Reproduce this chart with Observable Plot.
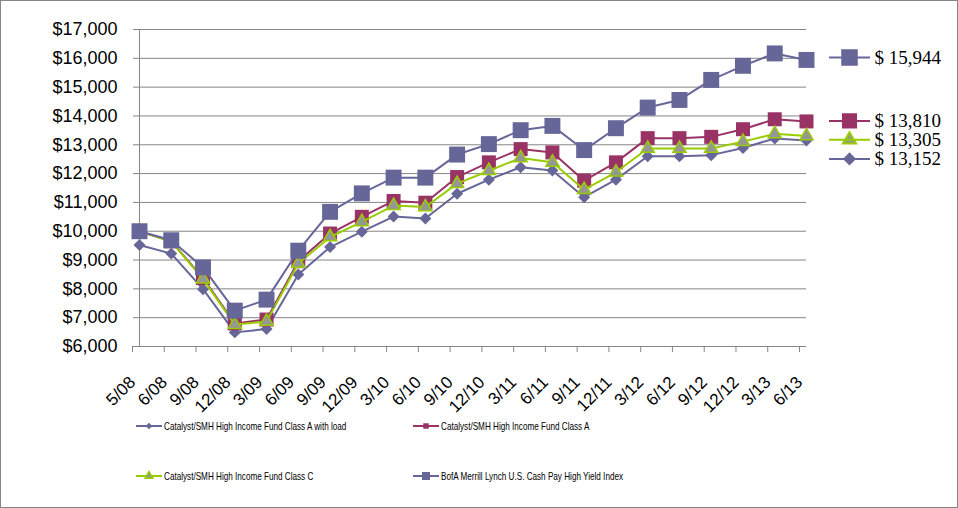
<!DOCTYPE html>
<html>
<head>
<meta charset="utf-8">
<script src="https://cdn.jsdelivr.net/npm/d3@7"></script>
<script src="https://cdn.jsdelivr.net/npm/@observablehq/plot@0.6"></script>
<style>
  html, body { margin: 0; padding: 0; background: #fff; }
  #wrap { position: relative; width: 958px; height: 508px; overflow: hidden; background: #fff; }
  #border { position: absolute; left: 0; top: 0; width: 958px; height: 508px; box-sizing: border-box; border: 1px solid #868686; pointer-events: none; }
  .leg { position: absolute; height: 14px; display: flex; align-items: center; white-space: nowrap; }
  .leg svg { display: block; }
  .leg span { display: inline-block; font-family: "Liberation Sans", Arial, sans-serif; font-size: 11px; color: #000; transform: scaleX(0.74); transform-origin: left center; margin-left: 2px; }
</style>
</head>
<body>
<div id="wrap"><div id="chart"></div><div id="legend"></div><div id="border"></div></div>
<script>
// ---- data ----
const dates = ["5/08","6/08","9/08","12/08","3/09","6/09","9/09","12/09","3/10","6/10","9/10","12/10","3/11","6/11","9/11","12/11","3/12","6/12","9/12","12/12","3/13","6/13"];
const seriesNames = [
  "Catalyst/SMH High Income Fund Class A with load",
  "Catalyst/SMH High Income Fund Class A",
  "Catalyst/SMH High Income Fund Class C",
  "BofA Merrill Lynch U.S. Cash Pay High Yield Index"
];
const withLoad = [9525, 9223, 7990, 6490, 6606, 8500, 9450, 9985, 10510, 10440, 11300, 11790, 12220, 12110, 11180, 11790, 12600, 12600, 12640, 12890, 13220, 13152];
const classA   = [10000, 9650, 8375, 6800, 6935, 8960, 9920, 10500, 11050, 10990, 11880, 12390, 12850, 12735, 11755, 12390, 13230, 13230, 13275, 13540, 13885, 13810];
const classC   = [10000, 9640, 8340, 6760, 6870, 8880, 9800, 10325, 10890, 10840, 11650, 12100, 12540, 12390, 11440, 12045, 12870, 12870, 12870, 13110, 13380, 13305];
const indexHY  = [10000, 9687, 8745, 7244, 7626, 9325, 10673, 11313, 11860, 11860, 12660, 13023, 13506, 13655, 12816, 13575, 14290, 14555, 15250, 15740, 16170, 15944];
const yTicks = [6000, 7000, 8000, 9000, 10000, 11000, 12000, 13000, 14000, 15000, 16000, 17000];

// ---- styles ----
const seriesValues = [withLoad, classA, classC, indexHY];
const styles = [
  {color: "#666699", symbol: d3.symbolDiamond2, r: 5.4, fill: "#666699", stroke: "none", sw: 0, labelDy: 18.5, legR: 4.6, legFill: "#666699", legStroke: "#666699"},
  {color: "#993366", symbol: d3.symbolSquare, r: 7.9, fill: "#993366", stroke: "none", sw: 0, labelDy: -0.5, legR: 7.4, legFill: "#993366", legStroke: "#993366"},
  {color: "#99CC00", symbol: d3.symbolTriangle, r: 4.9, fill: "#969696", stroke: "#99CC00", sw: 1.5, labelDy: 3.8, legR: 4.9, legFill: "#969696", legStroke: "#99CC00"},
  {color: "#666699", symbol: d3.symbolSquare, r: 9, fill: "#666699", stroke: "none", sw: 0, labelDy: -2.5, legR: 8.2, legFill: "#666699", legStroke: "#666699"}
];

function withLine(base, half) {
  return { draw(ctx, size) { ctx.moveTo(-half, 0); ctx.lineTo(half, 0); base.draw(ctx, size); } };
}

const marks = [
  Plot.gridY(yTicks, {stroke: "#868686", strokeOpacity: 1}),
  Plot.ruleX([dates[0]], {stroke: "#868686"}),
  Plot.ruleY([6000], {stroke: "#868686"}),
  Plot.axisY({ticks: yTicks, label: null, tickFormat: d => "$" + d3.format(",")(d), tickSize: 6, tickPadding: 16, fontSize: 18, stroke: "#868686", fill: "#000"}),
  Plot.axisX({label: null, tickSize: 6, tickRotate: -45, tickPadding: 27, fontSize: 17, stroke: "#868686", fill: "#000", dx: -7})
];

seriesValues.forEach((vals, i) => {
  const s = styles[i];
  const rows = dates.map((d, j) => ({date: d, value: vals[j]}));
  marks.push(Plot.line(rows, {x: "date", y: "value", stroke: s.color, strokeWidth: 2}));
  marks.push(Plot.dot(rows, {x: "date", y: "value", symbol: s.symbol, r: s.r, fill: s.fill, stroke: s.stroke, strokeWidth: s.sw}));
});

// end labels on the right
seriesValues.forEach((vals, i) => {
  const s = styles[i];
  const last = [{date: dates[dates.length - 1], value: vals[vals.length - 1]}];
  marks.push(Plot.dot(last, {x: "date", y: "value", dx: 43, dy: s.labelDy, symbol: withLine(s.symbol, 20.5), r: s.legR, fill: s.legFill, stroke: s.legStroke, strokeWidth: 2}));
  marks.push(Plot.text(last, {x: "date", y: "value", dx: 68, dy: s.labelDy, text: d => "$ " + d3.format(",")(d.value), textAnchor: "start", fontFamily: "'Liberation Serif', 'Times New Roman', serif", fontSize: 19, fill: "#000"}));
});

const chart = Plot.plot({
  width: 958,
  height: 410,
  marginLeft: 139,
  marginRight: 152,
  marginTop: 29,
  marginBottom: 64,
  style: {fontFamily: "'Liberation Sans', Arial, sans-serif", background: "#fff", color: "#000", overflow: "visible"},
  x: {type: "point", domain: dates, padding: 0, inset: 0, round: false, label: null},
  y: {domain: [6000, 17000], label: null},
  marks
});
document.getElementById("chart").appendChild(chart);

// ---- bottom legend ----
const legPos = [
  {left: 136, top: 419},
  {left: 413, top: 419},
  {left: 136, top: 469},
  {left: 413, top: 469}
];
const legendEl = document.getElementById("legend");
seriesNames.forEach((name, i) => {
  const s = styles[i];
  const item = document.createElement("div");
  item.className = "leg";
  item.style.left = legPos[i].left + "px";
  item.style.top = legPos[i].top + "px";
  const svg = d3.create("svg").attr("width", 26).attr("height", 14);
  svg.append("line").attr("x1", 0).attr("x2", 26).attr("y1", 7).attr("y2", 7).attr("stroke", s.color).attr("stroke-width", 2);
  const sizes = [28, 30, 26, 64];
  svg.append("path").attr("transform", "translate(13,7)")
    .attr("d", d3.symbol(s.symbol, sizes[i])())
    .attr("fill", s.fill).attr("stroke", s.stroke === "none" ? null : s.stroke).attr("stroke-width", s.sw);
  item.appendChild(svg.node());
  const sp = document.createElement("span");
  sp.textContent = name;
  item.appendChild(sp);
  legendEl.appendChild(item);
});
</script>
</body>
</html>
